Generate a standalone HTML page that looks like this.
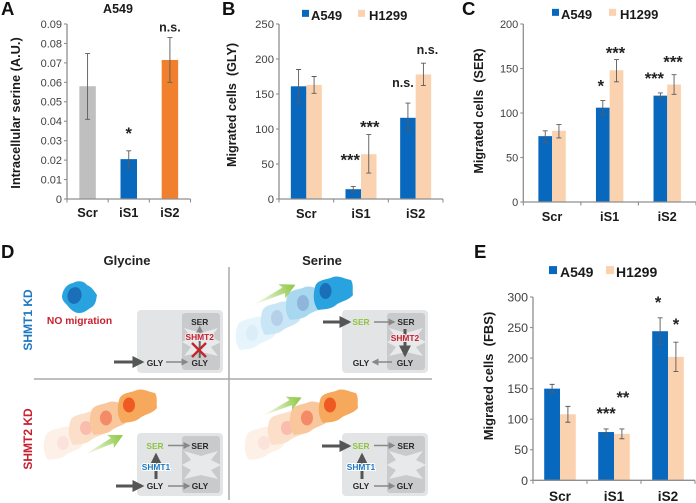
<!DOCTYPE html>
<html lang="en">
<head>
<meta charset="utf-8">
<title>SHMT knockdown migration figure</title>
<style>
html,body{margin:0;padding:0;background:#fff;width:696px;height:503px;overflow:hidden}
svg{display:block;font-family:"Liberation Sans",Arial,sans-serif;filter:blur(0.3px)}
.d{font-weight:bold;font-size:8.4px;fill:#2a2a2a;text-anchor:middle}
.lab{font-weight:bold;font-size:18.5px;fill:#111}
</style>
</head>
<body>
<svg id="fig" xmlns="http://www.w3.org/2000/svg" width="696" height="503" viewBox="0 0 696 503">
  <defs>
    <path id="blob" d="M-18,-6 C-16,-14 -6,-13 0,-16 C6,-18 12,-14 18,-13 C21,-8 19,-3 20,2 C15,8 8,8 3,12 C-3,17 -10,16 -15,17 C-20,10 -20,2 -18,-6Z"/>
    <linearGradient id="greenfade" x1="0" y1="0" x2="1" y2="0">
      <stop offset="0" stop-color="#8cc63f" stop-opacity="0"/>
      <stop offset="1" stop-color="#8cc63f"/>
    </linearGradient>
    <g id="green-arrow"><polygon points="0,0 34,-3 32,-8 47,0 32,8 34,3" fill="url(#greenfade)"/></g>
    <g id="pathway-box">
      <rect x="0" y="0" width="86" height="63" rx="4" fill="#e3e4e5"/>
      <rect x="45" y="3" width="38" height="57" rx="3" fill="#c9cacc"/>
      <polygon points="47,18 64,23 81,18 74,27 84,32 74,37 81,46 64,42 47,46 54,37 45,32 54,27" fill="#e8e9ea"/>
    </g>
    <marker id="head-dark" markerUnits="userSpaceOnUse" markerWidth="12" markerHeight="12" refX="8" refY="5" orient="auto" viewBox="0 0 10 10"><polygon points="0,0 10,5 0,10" fill="#555"/></marker>
    <marker id="head-gray" markerUnits="userSpaceOnUse" markerWidth="7" markerHeight="7" refX="8" refY="5" orient="auto" viewBox="0 0 10 10"><polygon points="0,0 10,5 0,10" fill="#888"/></marker>
  </defs>

  <text class="lab" x="1" y="15">A</text>
  <text class="lab" x="222" y="15">B</text>
  <text class="lab" x="462" y="15">C</text>
  <text class="lab" x="1" y="258">D</text>
  <text class="lab" x="474" y="258">E</text>

  <g id="charts"></g>

  <g id="panel-d">
    <line x1="229" y1="267" x2="229" y2="500" stroke="#aaa" stroke-width="1.5"/>
    <line x1="34" y1="379" x2="432" y2="379" stroke="#aaa" stroke-width="1.5"/>
    <text x="127" y="265" text-anchor="middle" font-weight="bold" font-size="13" fill="#222">Glycine</text>
    <text x="322" y="265" text-anchor="middle" font-weight="bold" font-size="13" fill="#222">Serine</text>
    <text transform="translate(32,320) rotate(-90)" text-anchor="middle" font-weight="bold" font-size="12" fill="#1e78c1">SHMT1 KD</text>
    <text transform="translate(32,439) rotate(-90)" text-anchor="middle" font-weight="bold" font-size="12" fill="#c8202f">SHMT2 KD</text>

    <g>
      <path d="M62,296 C63,289 67,284 73,283 C78,280 84,281 87,285 C92,287 94,291 97,295 C96,300 96,304 92,307 C88,309 85,313 79,313 C74,313 70,309 67,305 C64,302 62,300 62,296Z" fill="#29a3df"/>
      <ellipse cx="74.500" cy="295.500" rx="7" ry="8.500" transform="rotate(15 74.500 295.500)" fill="#1b6fb8"/>
    </g>
    <text x="79.500" y="324" text-anchor="middle" font-weight="bold" font-size="10.300" fill="#c8202f">NO migration</text>

    <g>
      <use href="#blob" transform="translate(255,333)" fill="#e6f4fb"/><ellipse cx="252" cy="333" rx="6" ry="8" fill="#dcedf7"/>
      <use href="#blob" transform="translate(280,318)" fill="#c8e6f5"/><ellipse cx="277" cy="318" rx="6" ry="8" fill="#b5d0e8"/>
      <use href="#blob" transform="translate(305,303)" fill="#a8d8f0"/><ellipse cx="303" cy="303" rx="6" ry="8" fill="#8fb6da"/>
      <use href="#blob" transform="translate(333,293)" fill="#29a3df"/><ellipse cx="325.500" cy="291" rx="6" ry="8" fill="#1b6fb8"/>
    </g>
    <g>
      <use href="#blob" transform="translate(63,443)" fill="#fdf0e6"/><ellipse cx="63" cy="443" rx="6" ry="7" fill="#fbe3dc"/>
      <use href="#blob" transform="translate(88,428)" fill="#fbdfc9"/><ellipse cx="86" cy="428" rx="6" ry="7" fill="#f9bcae"/>
      <use href="#blob" transform="translate(109,418)" fill="#f9c79b"/><ellipse cx="106" cy="418" rx="6" ry="7.500" fill="#f58a68"/>
      <use href="#blob" transform="translate(137,406)" fill="#f6a85c"/><ellipse cx="129" cy="405" rx="6" ry="7.500" fill="#ef5a23"/>
    </g>
    <g>
      <use href="#blob" transform="translate(264,443)" fill="#fdf0e6"/><ellipse cx="264" cy="443" rx="6" ry="7" fill="#fbe3dc"/>
      <use href="#blob" transform="translate(287,428)" fill="#fbdfc9"/><ellipse cx="287" cy="428" rx="6" ry="7" fill="#f9bcae"/>
      <use href="#blob" transform="translate(309,418)" fill="#f9c79b"/><ellipse cx="307" cy="418" rx="6" ry="7.500" fill="#f58a68"/>
      <use href="#blob" transform="translate(338,406)" fill="#f6a85c"/><ellipse cx="330" cy="405" rx="6" ry="7.500" fill="#ef5a23"/>
    </g>
    <use href="#green-arrow" transform="translate(253,305) rotate(-25.500)"/>
    <use href="#green-arrow" transform="translate(84,455) rotate(-27) scale(.93)"/>
    <use href="#green-arrow" transform="translate(262,416) rotate(-25) scale(.93)"/>

    <use href="#pathway-box" x="137" y="310"/>
    <use href="#pathway-box" x="342" y="310"/>
    <use href="#pathway-box" x="137" y="433"/>
    <use href="#pathway-box" x="342" y="433"/>

    <g fill="none">
      <g stroke="#555" stroke-width="3">
        <line x1="114" y1="362" x2="142" y2="362" marker-end="url(#head-dark)"/>
        <line x1="323" y1="322" x2="349" y2="322" marker-end="url(#head-dark)"/>
        <line x1="405" y1="329" x2="405" y2="355" marker-end="url(#head-dark)"/>
        <line x1="116" y1="486" x2="142" y2="486" marker-end="url(#head-dark)"/>
        <line x1="156" y1="479" x2="156" y2="455" marker-end="url(#head-dark)"/>
        <line x1="322" y1="446" x2="349" y2="446" marker-end="url(#head-dark)"/>
        <line x1="362" y1="479" x2="362" y2="455" marker-end="url(#head-dark)"/>
      </g>
      <g stroke="#888" stroke-width="1.500">
        <line x1="166" y1="362" x2="187" y2="362" marker-end="url(#head-gray)"/>
        <line x1="199.700" y1="340" x2="199.700" y2="327" marker-end="url(#head-gray)"/>
        <line x1="374" y1="322" x2="394" y2="322" marker-end="url(#head-gray)"/>
        <line x1="392" y1="362" x2="373" y2="362" marker-end="url(#head-gray)"/>
        <line x1="168" y1="445.500" x2="189" y2="445.500" marker-end="url(#head-gray)"/>
        <line x1="168" y1="486" x2="189" y2="486" marker-end="url(#head-gray)"/>
        <line x1="374" y1="445.500" x2="394" y2="445.500" marker-end="url(#head-gray)"/>
        <line x1="374" y1="486" x2="394" y2="486" marker-end="url(#head-gray)"/>
      </g>
      <line x1="199.700" y1="340" x2="199.700" y2="358" stroke="#666" stroke-width="2"/>
    </g>

    <g>
      <text class="d" x="155" y="366">GLY</text>
      <text class="d" x="199.700" y="325">SER</text>
      <text class="d" x="199.700" y="366">GLY</text>
      <text class="d" x="361" y="325" style="fill:#8cc63f">SER</text>
      <text class="d" x="406" y="325">SER</text>
      <text class="d" x="361" y="366">GLY</text>
      <text class="d" x="405" y="366">GLY</text>
      <text class="d" x="155" y="449" style="fill:#8cc63f">SER</text>
      <text class="d" x="200" y="449">SER</text>
      <text class="d" x="155" y="489">GLY</text>
      <text class="d" x="200" y="489">GLY</text>
      <text class="d" x="361" y="449" style="fill:#8cc63f">SER</text>
      <text class="d" x="406" y="449">SER</text>
      <text class="d" x="361" y="489">GLY</text>
      <text class="d" x="405" y="489">GLY</text>
      <text class="d" x="199.700" y="340" style="fill:#c8202f;stroke:#e8e9ea;stroke-width:2;paint-order:stroke">SHMT2</text>
      <text class="d" x="405" y="341" style="fill:#c8202f;stroke:#e8e9ea;stroke-width:2;paint-order:stroke">SHMT2</text>
      <text class="d" x="156" y="470" style="fill:#1e78c1;stroke:#fff;stroke-width:2;paint-order:stroke">SHMT1</text>
      <text class="d" x="361" y="470" style="fill:#1e78c1;stroke:#fff;stroke-width:2;paint-order:stroke">SHMT1</text>
    </g>
    <g stroke="#c0272d" stroke-width="2.500">
      <line x1="192" y1="343" x2="206" y2="357"/>
      <line x1="206" y1="343" x2="192" y2="357"/>
    </g>
  </g>
</svg>

<script>
/* ---------- chart data ---------- */
const categories = ["Scr", "iS1", "iS2"];

const serineValues = [0.058, 0.0205, 0.0715];
const serineErrHigh = [0.0748, 0.0248, 0.083];
const serineErrLow = [0.041, 0.016, 0.060];
const serineTicks = ["0", "0.01", "0.02", "0.03", "0.04", "0.05", "0.06", "0.07", "0.08", "0.09"];

const glyA549 = [161, 14, 116];
const glyA549High = [185, 18, 137];
const glyA549Low = [136, 10, 97];
const glyH1299 = [163, 64, 178];
const glyH1299High = [175, 92, 194];
const glyH1299Low = [151, 37, 162];
const glyTicks = ["0", "50", "100", "150", "200", "250"];

const serA549 = [74, 106, 119.5];
const serA549High = [80, 114, 122.5];
const serA549Low = [67, 98, 117];
const serH1299 = [80, 148, 132];
const serH1299High = [87, 160, 143];
const serH1299Low = [72, 135, 121];
const serTicks = ["0", "50", "100", "150", "200"];

const fbsA549 = [150, 79, 244];
const fbsA549High = [157, 84, 266];
const fbsA549Low = [143, 74, 222];
const fbsH1299 = [108, 76, 202];
const fbsH1299High = [121, 84, 226];
const fbsH1299Low = [95, 68, 178];
const fbsTicks = ["0", "50", "100", "150", "200", "250", "300"];

const serineSig = ["", "*", "n.s."];
const glyA549Sig = ["", "***", "n.s."];
const glyH1299Sig = ["", "***", "n.s."];
const serA549Sig = ["", "*", "***"];
const serH1299Sig = ["", "***", "***"];
const fbsA549Sig = ["", "***", "*"];
const fbsH1299Sig = ["", "**", "*"];

/* ---------- drawing ---------- */
const NS = "http://www.w3.org/2000/svg";
const BLUE = "#0868be", PEACH = "#fbd2b0";
const root = document.getElementById("charts");

function mk(tag, attrs, parent, text) {
  const el = document.createElementNS(NS, tag);
  for (const k in attrs) el.setAttribute(k, attrs[k]);
  if (text !== undefined) el.textContent = text;
  parent.appendChild(el);
  return el;
}

function drawChart(c) {
  const g = mk("g", {}, root);
  
  

  const groupW = (c.x1 - c.x0) / categories.length;
  const yMax = Number(c.ticks[c.ticks.length - 1]);
  const yScale = v => c.y0 - (v / yMax) * (c.y0 - c.yTop);
  const xCenter = i => c.x0 + groupW * (i + 0.5);

  /* bars + error bars */
  c.series.forEach((s, si) => {
    categories.forEach((cat, i) => {
      const left = xCenter(i) + (si - c.series.length / 2) * c.barW;
      const top = yScale(s.values[i]);
      const bar = mk("rect", {x: left, y: top, width: c.barW, height: c.y0 - top, fill: s.colors ? s.colors[i] : s.color}, g);
      
      

      const cx = left + c.barW / 2;
      const hi = yScale(s.high[i]), lo = yScale(s.low[i]);
      const err = mk("path", {d: `M${cx - 2.5},${hi}H${cx + 2.5}M${cx},${hi}V${lo}M${cx - 2.5},${lo}H${cx + 2.5}`, fill: "none", stroke: "#5a5a5a", "stroke-width": 0.9}, g);
      
      

      const label = s.sig[i];
      if (label) {
        const off = c.sigOffsets[s.key + i];
        const isStar = label[0] === "*";
        const t = mk("text", {x: cx + off[0], y: hi - off[1] + (isStar ? 2 : 0), "text-anchor": "middle", "font-weight": "bold", "font-size": isStar ? 16.5 : c.nsSize, fill: "#222"}, g, label);
        
        
      }
    });
  });

  /* axes */
  const axis = mk("path", {d: `M${c.x0},${c.yTop}V${c.y0}H${c.x1}`, fill: "none", stroke: "#8f8f8f", "stroke-width": 1.3}, g);
  
  

  c.ticks.forEach(t => {
    const y = yScale(Number(t));
    const tick = mk("line", {x1: c.x0 - 3, x2: c.x0, y1: y, y2: y, stroke: "#8f8f8f", "stroke-width": 1.1}, g);
    
    
    const lab = mk("text", {x: c.x0 - 5, y: y + c.tickSize * 0.36, "text-anchor": "end", "font-size": c.tickSize, fill: "#404040"}, g, t);
    
    
  });

  for (let i = 0; i <= categories.length; i++) {
    const x = c.x0 + groupW * i;
    const tick = mk("line", {x1: x, x2: x, y1: c.y0, y2: c.y0 + 3.5, stroke: "#8f8f8f", "stroke-width": 1.1}, g);
    
    
  }
  categories.forEach((cat, i) => {
    const lab = mk("text", {x: xCenter(i) + c.catDx, y: c.catY, "text-anchor": "middle", "font-weight": "bold", "font-size": c.catSize, fill: "#1a1a1a"}, g, cat);
    
    
  });

  const title = mk("text", {transform: `translate(${c.titleX},${c.titleY}) rotate(-90)`, "text-anchor": "middle", "font-weight": "bold", "font-size": c.titleSize, fill: "#1a1a1a", style: "white-space:pre"}, g, c.title);
  
  

  /* legend */
  if (c.legend) {
    c.series.forEach((s, si) => {
      const l = c.legend[si];
      const sw = mk("rect", {x: l[0], y: c.legend.y - c.legend.size * 0.78, width: c.legend.sw, height: c.legend.sw, fill: s.color}, g);
      
      
      const tx = mk("text", {x: l[1], y: c.legend.y, "font-weight": "bold", "font-size": c.legend.size, fill: "#1a1a1a"}, g, s.label);
      
      
    });
  }
}

drawChart({
  name: "chart-a-intracellular-serine", x0: 67, x1: 190.5, y0: 199, yTop: 24, barW: 16.5,
  ticks: serineTicks, tickSize: 11, catSize: 12.8, catY: 217, catDx: 0, nsSize: 12.5,
  title: "Intracellular serine (A.U.)", titleX: 20, titleY: 113, titleSize: 12.8,
  series: [{key: "a549", label: "A549", values: serineValues, high: serineErrHigh, low: serineErrLow,
            sig: serineSig, colors: ["#bfbfbf", BLUE, "#f0802e"]}],
  sigOffsets: {a5491: [0, 14], a5492: [0, 6]}
});
drawChart({
  name: "chart-b-migrated-gly", x0: 279, x1: 443, y0: 199, yTop: 24, barW: 15.5,
  ticks: glyTicks, tickSize: 11.3, catSize: 12.8, catY: 218, catDx: 0, nsSize: 12.5,
  title: "Migrated cells  (GLY)", titleX: 236, titleY: 105, titleSize: 12.6,
  series: [
    {key: "a549", label: "A549", color: BLUE, values: glyA549, high: glyA549High, low: glyA549Low, sig: glyA549Sig},
    {key: "h1299", label: "H1299", color: PEACH, values: glyH1299, high: glyH1299High, low: glyH1299Low, sig: glyH1299Sig}
  ],
  sigOffsets: {a5491: [-3, 23], a5492: [-5, 16], h12991: [1, 4], h12992: [4, 9]},
  legend: Object.assign([[302, 311], [358, 369]], {y: 20, size: 13, sw: 7})
});
drawChart({
  name: "chart-c-migrated-ser", x0: 523.3, x1: 696, y0: 202, yTop: 24, barW: 13.7,
  ticks: serTicks, tickSize: 11, catSize: 12.8, catY: 221, catDx: 0, nsSize: 12.5,
  title: "Migrated cells  (SER)", titleX: 483, titleY: 111, titleSize: 12.6,
  series: [
    {key: "a549", label: "A549", color: BLUE, values: serA549, high: serA549High, low: serA549Low, sig: serA549Sig},
    {key: "h1299", label: "H1299", color: PEACH, values: serH1299, high: serH1299High, low: serH1299Low, sig: serH1299Sig}
  ],
  sigOffsets: {a5491: [-2, 11], a5492: [-6, 11], h12991: [-1, 3], h12992: [-1, 9]},
  legend: Object.assign([[552, 561], [609, 620]], {y: 19, size: 13, sw: 7})
});
drawChart({
  name: "chart-e-migrated-fbs", x0: 533, x1: 695, y0: 480.3, yTop: 297, barW: 15.8,
  ticks: fbsTicks, tickSize: 12.4, catSize: 13.6, catY: 501, catDx: 0, nsSize: 12.5,
  title: "Migrated cells  (FBS)", titleX: 493, titleY: 376, titleSize: 13,
  series: [
    {key: "a549", label: "A549", color: BLUE, values: fbsA549, high: fbsA549High, low: fbsA549Low, sig: fbsA549Sig},
    {key: "h1299", label: "H1299", color: PEACH, values: fbsH1299, high: fbsH1299High, low: fbsH1299Low, sig: fbsH1299Sig}
  ],
  sigOffsets: {a5491: [0, 12], a5492: [-2, 12], h12991: [1, 28], h12992: [0, 14]},
  legend: Object.assign([[549, 560], [606, 616]], {y: 277, size: 14, sw: 8})
});

/* chart A title */
const titleA = mk("text", {x: 118, y: 13, "text-anchor": "middle", "font-weight": "bold", "font-size": 12.5, fill: "#1a1a1a"}, root, "A549");


</script>
</body>
</html>
